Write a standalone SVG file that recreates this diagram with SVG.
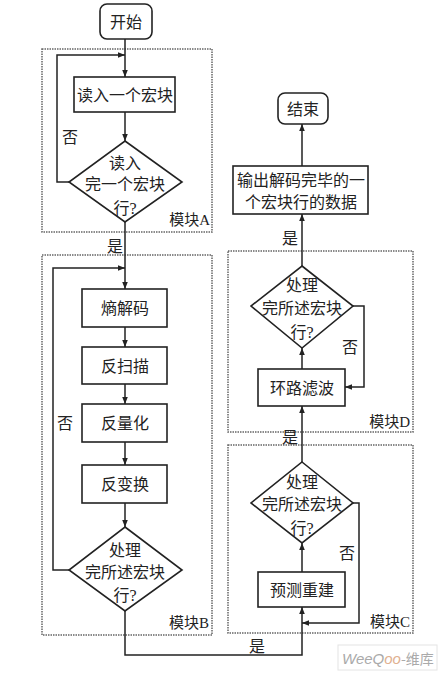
<svg xmlns="http://www.w3.org/2000/svg" width="443" height="678" viewBox="0 0 443 678">
<defs>
<marker id="ah" viewBox="0 0 10 10" refX="10" refY="5" markerWidth="7" markerHeight="7" orient="auto-start-reverse" markerUnits="userSpaceOnUse">
<path d="M0,1 L10,5 L0,9 z" fill="#222"/>
</marker>
<style>
text{font-family:"Liberation Serif","Noto Sans CJK SC",serif;font-size:16px;fill:#222;text-anchor:middle;dominant-baseline:central}
.mod{fill:none;stroke:#666;stroke-width:1.5;stroke-dasharray:1.5 1}
.box{fill:#fff;stroke:#222;stroke-width:1.6}
.c{fill:none;stroke:#222;stroke-width:1.5}
.a{marker-end:url(#ah)}
.lbl{font-size:15px;text-anchor:end}
</style>
</defs>
<rect width="443" height="678" fill="#fff"/>

<g id="moduleA"><rect class="mod" x="42" y="49" width="170" height="183"/><text class="lbl" x="210" y="220">模块A</text></g>
<g id="moduleB"><rect class="mod" x="42" y="255" width="170" height="380"/><text class="lbl" x="209" y="623">模块B</text></g>
<g id="moduleD"><rect class="mod" x="228" y="251" width="185" height="181"/><text class="lbl" x="410" y="422">模块D</text></g>
<g id="moduleC"><rect class="mod" x="228" y="445" width="185" height="188"/><text class="lbl" x="410" y="622">模块C</text></g>

<g id="connectors">
<line class="c a" x1="125" y1="39" x2="125" y2="77"/>
<polyline class="c a" points="69,182 57,182 57,55 125,55"/>
<line class="c a" x1="125" y1="112" x2="125" y2="141"/>
<line class="c a" x1="125" y1="222" x2="125" y2="289"/>
<polyline class="c a" points="69,570 53,570 53,268 125,268"/>
<line class="c a" x1="125" y1="327" x2="125" y2="347"/>
<line class="c a" x1="125" y1="384" x2="125" y2="404"/>
<line class="c a" x1="125" y1="442" x2="125" y2="465"/>
<line class="c a" x1="125" y1="503" x2="125" y2="527"/>
<polyline class="c a" points="125,611 125,655 302,655 302,607"/>
<polyline class="c a" points="353,503 359,503 359,623 302,623"/>
<line class="c a" x1="302" y1="572" x2="302" y2="543"/>
<line class="c a" x1="302" y1="462" x2="302" y2="406"/>
<line class="c a" x1="302" y1="369" x2="302" y2="348"/>
<polyline class="c a" points="353,306 364,306 364,387 345,387"/>
<line class="c a" x1="302" y1="266" x2="302" y2="214"/>
<line class="c a" x1="302" y1="166" x2="302" y2="124"/>
<text x="70" y="137">否</text>
<text x="115" y="246">是</text>
<text x="65" y="423">否</text>
<text x="290" y="238">是</text>
<text x="350" y="347">否</text>
<text x="290" y="437">是</text>
<text x="347" y="553">否</text>
<text x="257" y="646">是</text>
</g>

<g id="start"><rect class="box" x="100" y="4" width="52" height="35" rx="7"/><text x="126" y="22">开始</text></g>
<g id="readMB"><rect class="box" x="74" y="77" width="101" height="35"/><text x="125" y="95">读入一个宏块</text></g>
<g id="decA"><polygon class="box" points="125,141 182,182 125,222 69,182"/><text x="125" y="163">读入</text><text x="125" y="184">完一个宏块</text><text x="125" y="208">行?</text></g>
<g id="entropy"><rect class="box" x="82" y="289" width="85" height="38"/><text x="125" y="308">熵解码</text></g>
<g id="iscan"><rect class="box" x="82" y="347" width="85" height="37"/><text x="125" y="366">反扫描</text></g>
<g id="iquant"><rect class="box" x="82" y="404" width="85" height="38"/><text x="125" y="423">反量化</text></g>
<g id="itrans"><rect class="box" x="82" y="465" width="85" height="38"/><text x="125" y="484">反变换</text></g>
<g id="decB"><polygon class="box" points="125,527 182,570 125,611 69,570"/><text x="125" y="550">处理</text><text x="125" y="572">完所述宏块</text><text x="125" y="595">行?</text></g>
<g id="end"><rect class="box" x="278" y="93" width="50" height="31" rx="7"/><text x="303" y="109">结束</text></g>
<g id="output"><rect class="box" x="233" y="166" width="135" height="48"/><text x="301" y="180">输出解码完毕的一</text><text x="301" y="202">个宏块行的数据</text></g>
<g id="decD"><polygon class="box" points="302,266 353,306 302,348 251,306"/><text x="302" y="285">处理</text><text x="302" y="308">完所述宏块</text><text x="302" y="332">行?</text></g>
<g id="loopfilter"><rect class="box" x="258" y="369" width="87" height="37"/><text x="302" y="388">环路滤波</text></g>
<g id="decC"><polygon class="box" points="302,462 353,503 302,543 251,503"/><text x="302" y="482">处理</text><text x="302" y="504">完所述宏块</text><text x="302" y="528">行?</text></g>
<g id="predict"><rect class="box" x="258" y="572" width="87" height="35"/><text x="302" y="590">预测重建</text></g>

<g id="watermark"><rect x="338" y="645" width="99" height="25" fill="#fff" stroke="#e4e4e4"/><text x="342" y="658" style="font-family:'Liberation Sans',sans-serif;font-style:italic;font-size:15px;fill:#aaa;text-anchor:start">WeeQ<tspan style="fill:#e0b090">oo</tspan></text><text x="401" y="658" style="font-family:'Noto Sans CJK SC',sans-serif;font-size:14px;fill:#aaa;text-anchor:start">-维库</text></g>
</svg>
